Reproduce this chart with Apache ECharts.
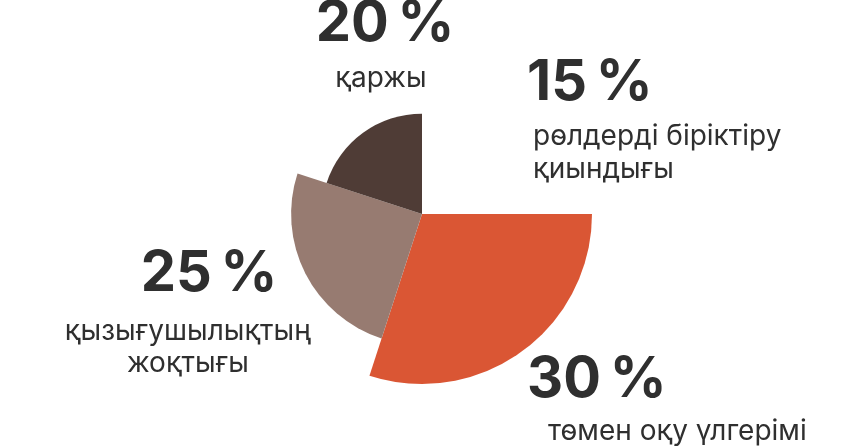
<!DOCTYPE html>
<html>
<head>
<meta charset="utf-8">
<script src="https://cdn.jsdelivr.net/npm/echarts@6/dist/echarts.min.js"></script>
<style>
  html, body { margin: 0; padding: 0; background: #ffffff; }
  #chart { width: 864px; height: 448px; }
</style>
</head>
<body>
<div id="chart"></div>
<script>
// ---- data ----
const categories = ['төмен оқу үлгерімі', 'қызығушылықтың жоқтығы', 'қаржы', 'рөлдерді біріктіру қиындығы'];
const shares = [30, 25, 20, 15];            // % (angle)
const radiusValues = [100, 77, 59, 0];      // relative slice length (15 % slice not drawn)
const shareLabels = ['30\u202F%', '25\u202F%', '20\u202F%', '15\u202F%'];
const nameLines = [['төмен оқу үлгерімі'], ['қызығушылықтың', 'жоқтығы'], ['қаржы'], ['рөлдерді біріктіру', 'қиындығы']];

const colors = ['#DA5634', '#977B71', '#4F3C36', 'rgba(0,0,0,0)'];
const textColor = '#2F2F2F';

// build slice table [startShare, endShare, radiusValue]
let acc = 0;
const sliceData = shares.map(function (s, i) {
  const row = [acc, acc + s, radiusValues[i]];
  acc += s;
  return { value: row, name: categories[i], itemStyle: { color: colors[i] } };
});

const chart = echarts.init(document.getElementById('chart'), null, { renderer: 'canvas' });

const numFont = 'bold 56px Inter';
const subFont = '28px Inter';

// label placement (position / style only)
const labelSpec = [
  { x: 527, numY: 380, subX: 548, subY: 432, align: 'left', lh: 32 },
  { x: 209, numY: 274, subX: 188, subY: 332, align: 'center', lh: 32 },
  { x: 385, numY: 24, subX: 381, subY: 79, align: 'center', lh: 32 },
  { x: 527, numY: 83, subX: 533, subY: 137, align: 'left', lh: 33 }
];

const graphics = [];
labelSpec.forEach(function (sp, i) {
  graphics.push({
    type: 'text', x: sp.x, y: sp.numY,
    style: { text: shareLabels[i], font: numFont, fill: textColor, align: sp.align, verticalAlign: 'middle' }
  });
  nameLines[i].forEach(function (line, j) {
    graphics.push({
      type: 'text', x: sp.subX, y: sp.subY + j * sp.lh,
      style: { text: line, font: subFont, fill: textColor, align: sp.align, verticalAlign: 'middle' }
    });
  });
});

chart.setOption({
  backgroundColor: '#ffffff',
  animation: false,
  polar: { center: [422, 214], radius: 170 },
  angleAxis: { type: 'value', min: 0, max: 100, startAngle: 0, clockwise: true, show: false },
  radiusAxis: { type: 'value', min: 0, max: 100, show: false },
  series: [{
    type: 'custom',
    coordinateSystem: 'polar',
    data: sliceData,
    renderItem: function (params, api) {
      const rv = api.value(2);
      if (!(rv > 0)) return null;
      const cs = params.coordSys;
      const cx = cs.cx, cy = cs.cy;
      const p0 = api.coord([rv, api.value(0)]);
      const p1 = api.coord([rv, api.value(1)]);
      const r = Math.hypot(p0[0] - cx, p0[1] - cy);
      const sa = Math.atan2(p0[1] - cy, p0[0] - cx);
      let ea = Math.atan2(p1[1] - cy, p1[0] - cx);
      while (ea <= sa) ea += Math.PI * 2;
      return {
        type: 'sector',
        shape: { cx: cx, cy: cy, r0: 0, r: r, startAngle: sa, endAngle: ea, clockwise: true },
        style: { fill: api.visual('color') }
      };
    }
  }],
  graphic: graphics
});
</script>
</body>
</html>
